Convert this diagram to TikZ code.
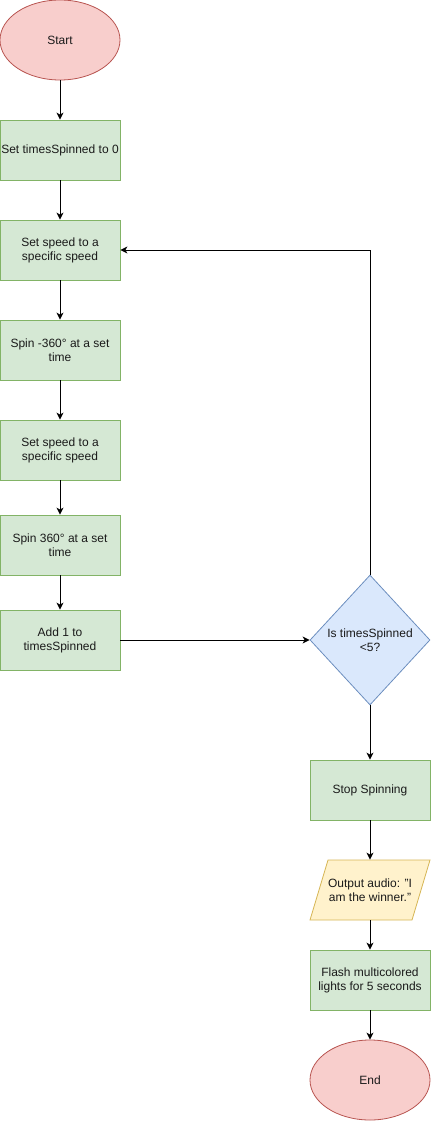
\documentclass[tikz,border=0pt]{standalone}
\usepackage{fontspec}
\setmainfont{Liberation Sans}
\usetikzlibrary{shapes.geometric,arrows.meta}
\definecolor{gfill}{HTML}{D5E8D4}\definecolor{gline}{HTML}{82B366}
\definecolor{rfill}{HTML}{F8CECC}\definecolor{rline}{HTML}{B85450}
\definecolor{bfill}{HTML}{DAE8FC}\definecolor{bline}{HTML}{6C8EBF}
\definecolor{yfill}{HTML}{FFF2CC}\definecolor{yline}{HTML}{D6B656}
\definecolor{txt}{HTML}{1A1A1A}
\tikzset{
  base/.style={font=\fontsize{12}{14}\selectfont, text=txt, align=center, inner sep=0pt, line width=0.8pt},
  stepbox/.style={base, rectangle, draw=gline, fill=gfill, minimum width=120pt, minimum height=60pt},
  terminal/.style={base, ellipse, draw=rline, fill=rfill, minimum width=120pt, minimum height=80pt},
  decision/.style={base, diamond, draw=bline, fill=bfill, minimum width=120pt, minimum height=130pt, aspect=0.92},
  iobox/.style={base, rectangle, minimum width=120pt, minimum height=60pt},
  ioshape/.style={draw=yline, fill=yfill, line width=0.8pt, line join=miter},
  flow/.style={draw=black, line width=1pt, -{Stealth[length=7pt,width=7pt,inset=2pt]}}
}
\begin{document}
\begin{tikzpicture}[x=1pt,y=-1pt]
\useasboundingbox (0,0) rectangle (431,1121);
% input/output parallelogram, slanted to the right
\draw[ioshape] (328,860) -- (430,860) -- (412,920) -- (310,920) -- cycle;

\node[terminal] (start) at (60,40) {Start};
\node[stepbox] (init) at (60,150) {Set timesSpinned to 0};
\node[stepbox] (speedA) at (60,250) {Set speed to a\\specific speed};
\node[stepbox] (spinA) at (60,350) {Spin -360° at a set\\time};
\node[stepbox] (speedB) at (60,450) {Set speed to a\\specific speed};
\node[stepbox] (spinB) at (60,545) {Spin 360° at a set\\time};
\node[stepbox] (inc) at (60,640) {Add 1 to\\timesSpinned};
\node[decision] (check) at (370,640) {Is timesSpinned\\<5?};
\node[stepbox] (stop) at (370,790) {Stop Spinning};
\node[iobox] (audio) at (370,890) {Output audio: "I\\am the winner."};
\node[stepbox] (lights) at (370,980) {Flash multicolored\\lights for 5 seconds};
\node[terminal] (finish) at (370,1080) {End};

\draw[flow] (start) -- (init);
\draw[flow] (init) -- (speedA);
\draw[flow] (speedA) -- (spinA);
\draw[flow] (spinA) -- (speedB);
\draw[flow] (speedB) -- (spinB);
\draw[flow] (spinB) -- (inc);
\draw[flow] (inc) -- (check);
\draw[flow] (check.north) |- (speedA.east);
\draw[flow] (check) -- (stop);
\draw[flow] (stop) -- (audio);
\draw[flow] (audio) -- (lights);
\draw[flow] (lights) -- (finish);
\end{tikzpicture}
\end{document}
